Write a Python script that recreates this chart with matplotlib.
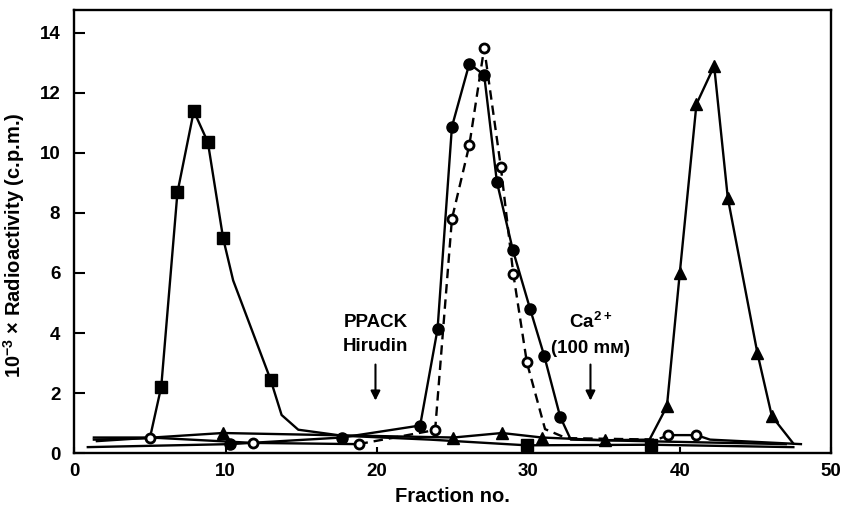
import matplotlib
matplotlib.use("Agg")
import matplotlib.pyplot as plt

# fraction no. / 10^-3 x c.p.m.
# (unmarked points only shape the hand-drawn lines near the baseline)
sq_x = [1.3, 5.0, 5.75, 6.82, 7.9, 8.83, 9.84, 10.5, 12.97, 13.7, 14.8, 17.7, 23.5, 29.9, 38.1, 47.5]
sq_y = [0.45, 0.5, 2.21, 8.68, 11.39, 10.35, 7.15, 5.75, 2.45, 1.27, 0.78, 0.58, 0.45, 0.26, 0.28, 0.2]
sq_marked = [2, 3, 4, 5, 6, 8, 13, 14]

fc_x = [0.9, 10.3, 17.68, 22.85, 24.0, 24.95, 26.1, 27.08, 27.92, 28.97, 30.12, 31.04, 32.1, 32.8, 47.0]
fc_y = [0.2, 0.30, 0.52, 0.92, 4.13, 10.87, 12.97, 12.59, 9.03, 6.77, 4.79, 3.25, 1.21, 0.45, 0.3]
fc_marked = [1, 2, 3, 4, 5, 6, 7, 8, 9, 10, 11, 12]

oc_x = [1.3, 5.02, 11.84, 18.78, 23.84, 24.95, 26.1, 27.08, 28.18, 29.0, 29.9, 31.1, 32.5, 38.5, 39.25, 41.1, 42.0, 48.0]
oc_y = [0.52, 0.52, 0.34, 0.30, 0.77, 7.8, 10.26, 13.49, 9.53, 5.98, 3.02, 0.8, 0.5, 0.45, 0.6, 0.6, 0.45, 0.3]
oc_marked = [1, 2, 3, 4, 5, 6, 7, 8, 9, 10, 14, 15]
oc_dashed = (3, 14)  # dashed stretch of the open-circle trace

tr_x = [1.5, 9.82, 25.05, 28.25, 30.9, 35.07, 38.0, 39.15, 40.0, 41.1, 42.27, 43.17, 45.13, 46.08, 47.5]
tr_y = [0.4, 0.67, 0.52, 0.67, 0.52, 0.43, 0.45, 1.56, 6.0, 11.62, 12.89, 8.5, 3.32, 1.23, 0.32]
tr_marked = [1, 2, 3, 4, 5, 7, 8, 9, 10, 11, 12, 13]

steps = [(19.9, "PPACK\nHirudin"), (34.1, "Ca$^{2+}$\n(100 mм)")]

FONT = ["Liberation Sans", "DejaVu Sans"]
plt.rcParams["font.family"] = FONT
plt.rcParams["font.weight"] = "bold"
plt.rcParams["mathtext.fontset"] = "custom"
plt.rcParams["mathtext.rm"] = "Liberation Sans:bold"
plt.rcParams["mathtext.default"] = "rm"

fig = plt.figure(figsize=(8.43, 5.08), dpi=100)
ax = fig.add_axes([0.088, 0.108, 0.898, 0.872])

lw = 1.7
ax.plot(sq_x, sq_y, "-", color="black", lw=lw, marker="s", ms=8,
        markevery=sq_marked, zorder=3)
ax.plot(fc_x, fc_y, "-", color="black", lw=lw, marker="o", ms=8,
        markevery=fc_marked, zorder=3)
a, b = oc_dashed
ax.plot(oc_x[:a + 1], oc_y[:a + 1], "-", color="black", lw=lw, zorder=2)
ax.plot(oc_x[a:b + 1], oc_y[a:b + 1], color="black", lw=lw, ls=(0, (4, 2.5)), zorder=2)
ax.plot(oc_x[b:], oc_y[b:], "-", color="black", lw=lw, zorder=2)
ax.plot([oc_x[i] for i in oc_marked], [oc_y[i] for i in oc_marked], "o",
        ms=6.5, mfc="white", mec="black", mew=2, zorder=4)
ax.plot(tr_x, tr_y, "-", color="black", lw=lw, marker="^", ms=9,
        markevery=tr_marked, zorder=3)

# elution steps
for x, label in steps:
    ax.text(x, 3.95, label, ha="center", va="center", fontsize=13.5,
            fontweight="bold", linespacing=1.55)
    ax.annotate("", xy=(x, 1.75), xytext=(x, 2.95),
                arrowprops=dict(arrowstyle="-|>", color="black", lw=1.5,
                                mutation_scale=14, shrinkA=0, shrinkB=0))

ax.set_xlim(0, 50)
ax.set_ylim(0.1, 14.75)
ax.set_xticks([0, 10, 20, 30, 40, 50])
ax.set_yticks([0, 2, 4, 6, 8, 10, 12, 14])
ax.tick_params(axis="y", direction="in", length=8, width=1.5, labelsize=13.5, pad=10)
ax.tick_params(axis="x", direction="in", length=4, width=1.5, labelsize=13.5, pad=7)
for lab in ax.get_xticklabels() + ax.get_yticklabels():
    lab.set_fontweight("bold")
for sp in ax.spines.values():
    sp.set_linewidth(1.7)

ax.set_xlabel("Fraction no.", fontsize=14.5, fontweight="bold", labelpad=5)
ax.set_ylabel("10$^{-3}$ × Radioactivity (c.p.m.)", fontsize=14.5,
              fontweight="bold")
ax.yaxis.set_label_coords(-0.062, 0.47)

fig.savefig("out.png", dpi=100)
